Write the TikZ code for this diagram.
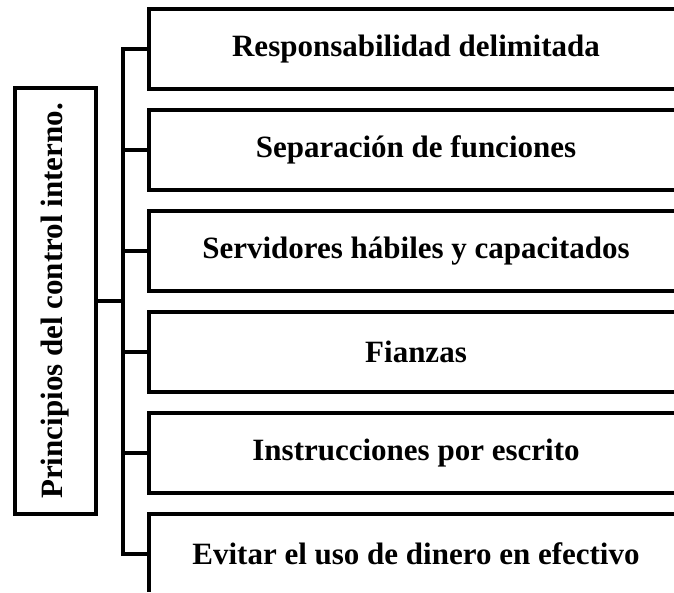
\documentclass[tikz,border=0pt]{standalone}
\usepackage{fontspec}
\setmainfont{Liberation Serif}
\usetikzlibrary{calc}

\begin{document}
\begin{tikzpicture}[x=1pt,y=-1pt,line width=4pt,
    item/.style={inner sep=0pt,font=\fontsize{31}{36}\selectfont\bfseries},
    title/.style={draw,rotate=90,minimum width=426pt,minimum height=81pt,inner sep=0pt,
        font=\fontsize{31}{36}\selectfont\bfseries}]
    \useasboundingbox (0,0) rectangle (674,592);
    \node[title] (main) at (55.5,301) {Principios del control interno.};
    % open frames, their right side runs off the page
    \foreach \t [count=\i] in {Responsabilidad delimitada,Separación de funciones,
        Servidores hábiles y capacitados,Fianzas,Instrucciones por escrito,
        Evitar el uso de dinero en efectivo}{
        \node[item] (b\i) at (416,{49+101*(\i-1)}) {\t};
        \coordinate (e\i) at (149,{49+101*(\i-1)});
        \pgfmathsetmacro{\ytop}{9+101*(\i-1)}
        \pgfmathsetmacro{\ybot}{min(89+101*(\i-1),592)}
        \ifnum\i<6
            \draw (674,\ytop) -| (149,\ybot) -- (674,\ybot);
        \else
            \draw (674,\ytop) -| (149,\ybot);
        \fi
    }
    \coordinate (trunk) at ($(e1)+(-26,0)$);
    \draw (e1) -- (trunk) |- (e6);
    \foreach \i in {2,...,5}{
        \draw (e\i) -- (e\i -| trunk);
    }
    \draw (main.south) -- (main.south -| trunk);
\end{tikzpicture}
\end{document}
